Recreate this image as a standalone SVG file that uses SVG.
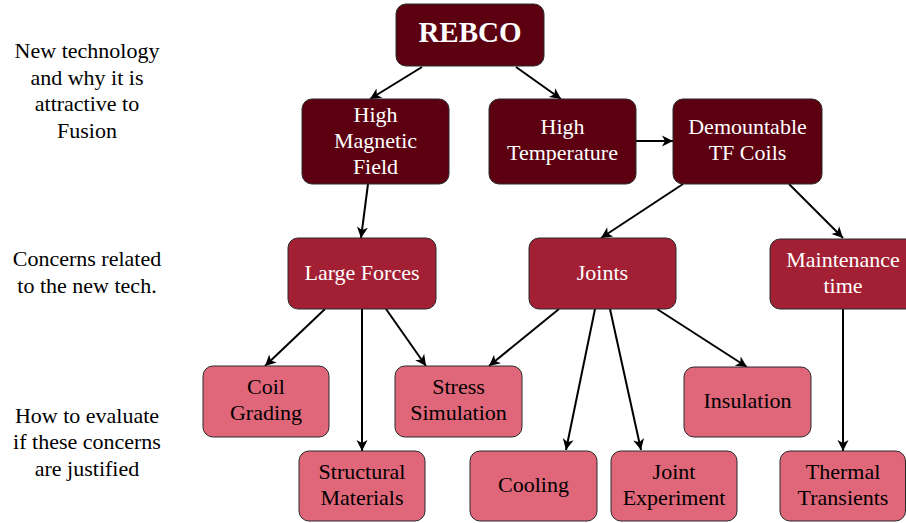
<svg xmlns="http://www.w3.org/2000/svg" width="906" height="523" viewBox="0 0 906 523">
<style>
text{font-family:"Liberation Serif",Tinos,"Times New Roman","Nimbus Roman","DejaVu Serif",serif;font-size:22px;text-anchor:middle}
.lbl{fill:#000}
.t1 rect{fill:#5c0011;stroke:#2a2a2a;stroke-width:1}
.t2 rect{fill:#a31f34;stroke:#2a2a2a;stroke-width:1}
.t3 rect{fill:#e0677a;stroke:#2a2a2a;stroke-width:1}
.t1 text,.t2 text{fill:#fff}
.t3 text{fill:#000}
.c line{stroke:#000;stroke-width:2;marker-end:url(#ah)}
</style>
<defs>
<marker id="ah" markerUnits="userSpaceOnUse" markerWidth="14" markerHeight="12" refX="12" refY="6" orient="auto">
<path d="M12,6 L1,0.5 L4,6 L1,11.5 Z" fill="#000"/>
</marker>
</defs>
<g id="side-labels" class="lbl">
<text x="87" y="58">New technology</text>
<text x="87" y="85">and why it is</text>
<text x="87" y="111">attractive to</text>
<text x="87" y="138">Fusion</text>
<text x="87" y="266">Concerns related</text>
<text x="87" y="293">to the new tech.</text>
<text x="87" y="423">How to evaluate</text>
<text x="87" y="449">if these concerns</text>
<text x="87" y="476">are justified</text>
</g>
<g id="connectors" class="c">
<line x1="422" y1="67" x2="370" y2="99"/>
<line x1="516" y1="67" x2="561" y2="99"/>
<line x1="636" y1="141" x2="673" y2="141"/>
<line x1="368" y1="184" x2="361" y2="238"/>
<line x1="683" y1="184" x2="601" y2="238"/>
<line x1="789" y1="184" x2="843" y2="238"/>
<line x1="325" y1="309" x2="265" y2="366"/>
<line x1="362" y1="309" x2="362" y2="451"/>
<line x1="386" y1="309" x2="426" y2="366"/>
<line x1="559" y1="309" x2="489" y2="366"/>
<line x1="595" y1="309" x2="566" y2="450"/>
<line x1="610" y1="309" x2="641" y2="450"/>
<line x1="657" y1="309" x2="747" y2="367"/>
<line x1="843" y1="309" x2="843" y2="451"/>
</g>
<g id="rebco" class="t1">
<rect x="396" y="4" width="148" height="62" rx="10"/>
<text x="470" y="42" style="font-weight:bold;font-size:29px">REBCO</text>
</g>
<g id="high-magnetic-field" class="t1">
<rect x="302" y="99" width="147" height="85" rx="10"/>
<text x="375.5" y="122">High</text>
<text x="375.5" y="148">Magnetic</text>
<text x="375.5" y="174">Field</text>
</g>
<g id="high-temperature" class="t1">
<rect x="489" y="99" width="147" height="85" rx="10"/>
<text x="562.5" y="134">High</text>
<text x="562.5" y="160">Temperature</text>
</g>
<g id="demountable-tf-coils" class="t1">
<rect x="673" y="99" width="149" height="85" rx="10"/>
<text x="747.5" y="134">Demountable</text>
<text x="747.5" y="160">TF Coils</text>
</g>
<g id="large-forces" class="t2">
<rect x="288" y="238" width="148" height="71" rx="10"/>
<text x="362" y="280">Large Forces</text>
</g>
<g id="joints" class="t2">
<rect x="529" y="238" width="147" height="71" rx="10"/>
<text x="602.5" y="280">Joints</text>
</g>
<g id="maintenance-time" class="t2">
<rect x="770" y="239" width="147" height="70" rx="10"/>
<text x="843" y="267">Maintenance</text>
<text x="843" y="293">time</text>
</g>
<g id="coil-grading" class="t3">
<rect x="203" y="366" width="126" height="71" rx="10"/>
<text x="266" y="394">Coil</text>
<text x="266" y="420">Grading</text>
</g>
<g id="stress-simulation" class="t3">
<rect x="395" y="366" width="127" height="71" rx="10"/>
<text x="458.5" y="394">Stress</text>
<text x="458.5" y="420">Simulation</text>
</g>
<g id="insulation" class="t3">
<rect x="684" y="367" width="127" height="70" rx="10"/>
<text x="747.5" y="408">Insulation</text>
</g>
<g id="structural-materials" class="t3">
<rect x="299" y="451" width="126" height="70" rx="10"/>
<text x="362" y="479">Structural</text>
<text x="362" y="505">Materials</text>
</g>
<g id="cooling" class="t3">
<rect x="470" y="451" width="127" height="70" rx="10"/>
<text x="533.5" y="492">Cooling</text>
</g>
<g id="joint-experiment" class="t3">
<rect x="611" y="451" width="126" height="70" rx="10"/>
<text x="674" y="479">Joint</text>
<text x="674" y="505">Experiment</text>
</g>
<g id="thermal-transients" class="t3">
<rect x="780" y="451" width="125.5" height="70" rx="10"/>
<text x="843" y="479">Thermal</text>
<text x="843" y="505">Transients</text>
</g>
</svg>
